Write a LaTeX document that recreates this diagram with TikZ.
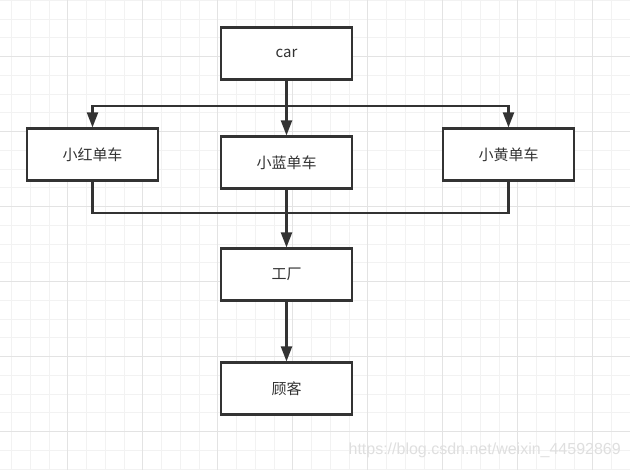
\documentclass[tikz,border=0pt]{standalone}
\usepackage{fontspec}
\setmainfont{Noto Sans CJK SC}
\newfontfamily\markfont{Liberation Sans}
\usetikzlibrary{arrows.meta}
\definecolor{ink}{HTML}{333333}
\definecolor{gridminor}{HTML}{F2F2F2}
\definecolor{gridmajor}{HTML}{E3E3E3}
\begin{document}
\begin{tikzpicture}[x=1pt, y=-1pt,
% common options for the boxes:
block/.style = {draw=ink, fill=white, line width=2.2pt, text=ink, align=center,
            minimum width=131pt, minimum height=52pt, inner sep=0,
            font=\fontsize{15}{18}\selectfont},
% common options for the connectors:
link/.style = {draw=ink, line width=2.2pt},
arr/.style = {link, -{Triangle[length=15pt, width=11pt]}}]
\useasboundingbox (0,0) rectangle (630,470);
\fill[white] (0,0) rectangle (630,470);
% background grid
\foreach \i in {0,...,33} \draw[gridminor, line width=1pt] (11.7+18.75*\i,0) -- (11.7+18.75*\i,470);
\foreach \i in {0,...,25} \draw[gridminor, line width=1pt] (0,0.45+18.75*\i) -- (630,0.45+18.75*\i);
\foreach \i in {0,...,7} \draw[gridmajor, line width=1pt] (67.95+75*\i,0) -- (67.95+75*\i,470);
\foreach \i in {0,...,6} \draw[gridmajor, line width=1pt] (0,56.7+75*\i) -- (630,56.7+75*\i);
\node[block] (A0) at (286.5,53.5) {car};
\node[block] (B1) at (92.5,154.5) {小红单车};
\node[block] (B2) at (286.5,162.5) {小蓝单车};
\node[block] (B3) at (508.5,154.5) {小黄单车};
\node[block] (C0) at (286.5,274.5) {工厂};
\node[block] (D0) at (286.5,388.5) {顾客};
\coordinate (J1) at (286.5,106);
\coordinate (J2) at (286.5,213);
\draw[link] (A0.south) to (J1);
\draw[arr] (J1) -| (B1.north);
\draw[arr] (J1) -| (B3.north);
\draw[arr] (J1) to (B2.north);
\draw[link] (B1.south) |- (J2);
\draw[link] (B3.south) |- (J2);
\draw[arr] (B2.south) to (C0.north);
\draw[arr] (C0.south) to (D0.north);
\node[anchor=base east, text=gray!25, inner sep=0, font=\markfont\fontsize{16}{19}\selectfont] (W0) at (621,455) {https://blog.csdn.net/weixin\_44592869};
\end{tikzpicture}
\end{document}
